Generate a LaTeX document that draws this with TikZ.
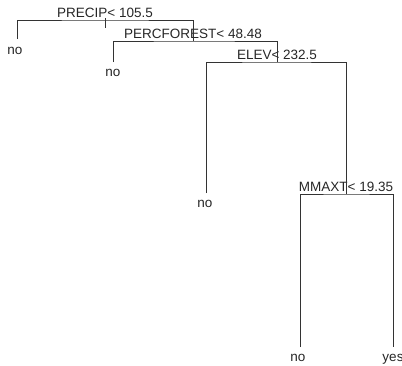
\documentclass[tikz,border=0pt]{standalone}
\usepackage{fontspec}
\setmainfont{Liberation Sans}
\usepackage{tikz}
\usetikzlibrary{positioning}
\newcommand{\treefont}{\fontsize{13.5}{16}\selectfont}
\tikzset{
  splitlabel/.style={
    anchor=base,
    inner sep=0pt,
    font=\treefont,
    text=black!85
  },
  leaflabel/.style={
    anchor=base,
    inner sep=0pt,
    font=\treefont,
    text=black!85
  },
  branch/.style={
    draw=black!80,
    line width=0.8pt
  }
}

\begin{document}
\begin{tikzpicture}[x=1pt,y=-1pt]
\useasboundingbox (0,0) rectangle (402,365);
% split points
\coordinate (precip) at (105,20);
\coordinate (perc) at (193,41);
\coordinate (elev) at (277,62);
\coordinate (mmaxt) at (346,194);
% leaf ends
\coordinate (leafa) at (17,39);
\coordinate (leafb) at (113,62);
\coordinate (leafc) at (206,193);
\coordinate (leafd) at (300,347);
\coordinate (leafe) at (393,347);
% labels
\node[splitlabel] (precipl) at (105,17) {PRECIP< 105.5};
\node[splitlabel] (percl) at (193,38) {PERCFOREST< 48.48};
\node[splitlabel] (elevl) at (277,59) {ELEV< 232.5};
\node[splitlabel] (mmaxtl) at (346,191) {MMAXT< 19.35};
\node[leaflabel] (noa) at (15,54) {no};
\node[leaflabel] (nob) at (113,76) {no};
\node[leaflabel] (noc) at (205,207) {no};
\node[leaflabel] (nod) at (298,361) {no};
\node[leaflabel] (yese) at (393,361) {yes};
% branches
\draw[branch] (precip) ++(0,-2) -- ++(0,10);
\draw[branch] (leafa) |- (precip) -| (perc);
\draw[branch] (leafb) |- (perc) -| (elev);
\draw[branch] (leafc) |- (elev) -| (mmaxt);
\draw[branch] (leafd) |- (mmaxt) -| (leafe);
\end{tikzpicture}
\end{document}
